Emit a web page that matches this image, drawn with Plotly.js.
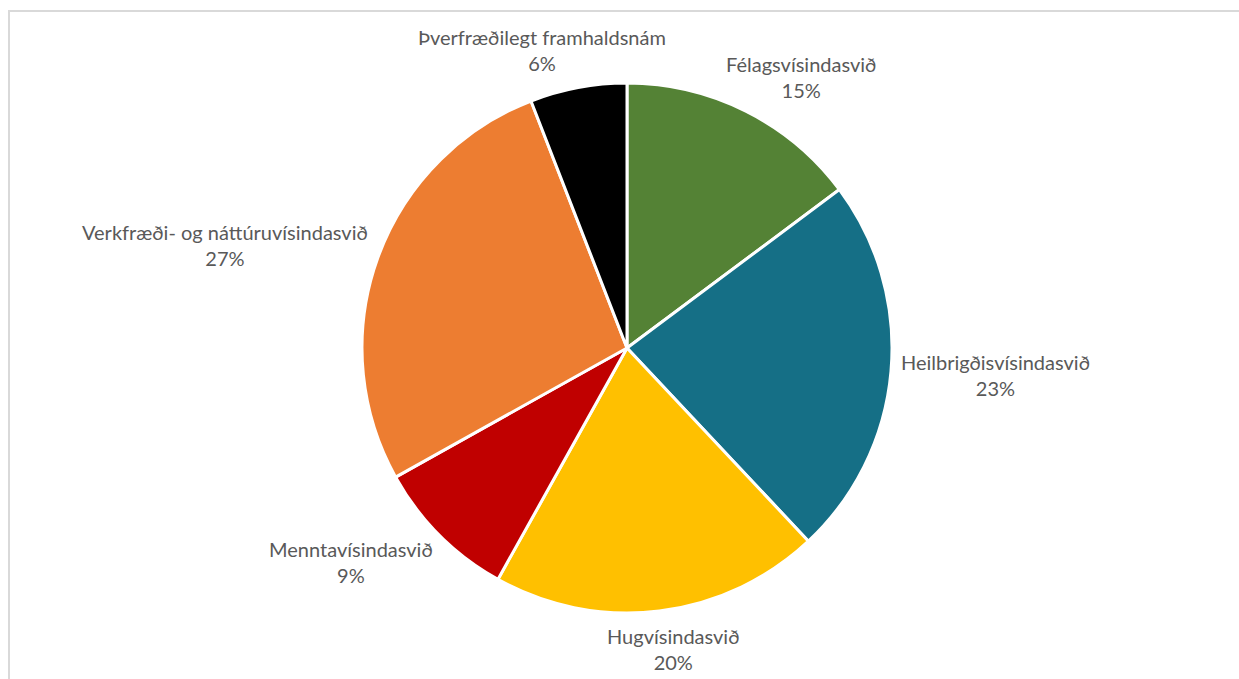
<!DOCTYPE html>
<html>
<head>
<meta charset="utf-8">
<script src="https://cdn.plot.ly/plotly-3.0.1.min.js"></script>
<style>
html,body{margin:0;padding:0;background:#fff;overflow:hidden;}
#frame{position:absolute;left:8px;top:10px;width:1240px;height:680px;border-top:2px solid #d9d9d9;border-left:2px solid #d9d9d9;box-sizing:border-box;}
#chart{position:absolute;left:0;top:0;width:1239px;height:679px;}
</style>
</head>
<body>
<div id="frame"></div>
<div id="chart"></div>
<script>
const categories = [
  "Félagsvísindasvið",
  "Heilbrigðisvísindasvið",
  "Hugvísindasvið",
  "Menntavísindasvið",
  "Verkfræði- og náttúruvísindasvið",
  "Þverfræðilegt framhaldsnám"
];
const shares = [14.8, 23.2, 20.1, 8.8, 27.2, 5.9];
const sliceColors = ["#548235", "#156F86", "#FFC000", "#C00000", "#ED7D31", "#000000"];

const W = 1239, H = 679;
const cx = 627, cy = 348, r = 265;
const labelGap = 10;
const fontFamily = "Lato, 'Open Sans', sans-serif";
const fontSize = 20;
const textColor = "#595959";

const trace = {
  type: "pie",
  labels: categories,
  values: shares,
  sort: false,
  direction: "clockwise",
  rotation: 0,
  marker: {colors: sliceColors, line: {color: "#ffffff", width: 3}},
  textinfo: "none",
  automargin: false,
  showlegend: false,
  hoverinfo: "label+percent",
  domain: {x: [(cx - r) / W, (cx + r) / W], y: [(H - cy - r) / H, (H - cy + r) / H]}
};

// Data labels placed outside each slice along its mid-angle (derived from the data)
const ctx = document.createElement("canvas").getContext("2d");
ctx.font = fontSize + "px Lato";
const total = shares.reduce((a, b) => a + b, 0);
let cum = 0;
const annotations = categories.map((name, i) => {
  const frac = shares[i] / total;
  const mid = (cum + frac / 2) * 2 * Math.PI;
  cum += frac;
  const ux = Math.sin(mid), uy = Math.cos(mid);
  const pctText = Math.round(frac * 100) + "%";
  const w = Math.max(ctx.measureText(name).width, ctx.measureText(pctText).width);
  const hw = w / 2, hh = 28;
  const R = r + labelGap;
  const fx = Math.sign(ux) * Math.min(1, 1.5 * Math.abs(ux));
  return {
    xref: "paper", yref: "paper",
    x: (cx + R * ux) / W,
    y: (H - cy + R * uy) / H,
    xanchor: "center", yanchor: "middle",
    xshift: hw * fx, yshift: hh * uy,
    showarrow: false,
    align: "center",
    text: name + "<br>" + pctText,
    font: {family: fontFamily, size: fontSize, color: textColor}
  };
});

const layout = {
  width: W, height: H,
  margin: {l: 0, r: 0, t: 0, b: 0},
  paper_bgcolor: "rgba(0,0,0,0)",
  plot_bgcolor: "rgba(0,0,0,0)",
  showlegend: false,
  annotations: annotations
};

Plotly.newPlot("chart", [trace], layout, {displayModeBar: false, staticPlot: true});
</script>
</body>
</html>
